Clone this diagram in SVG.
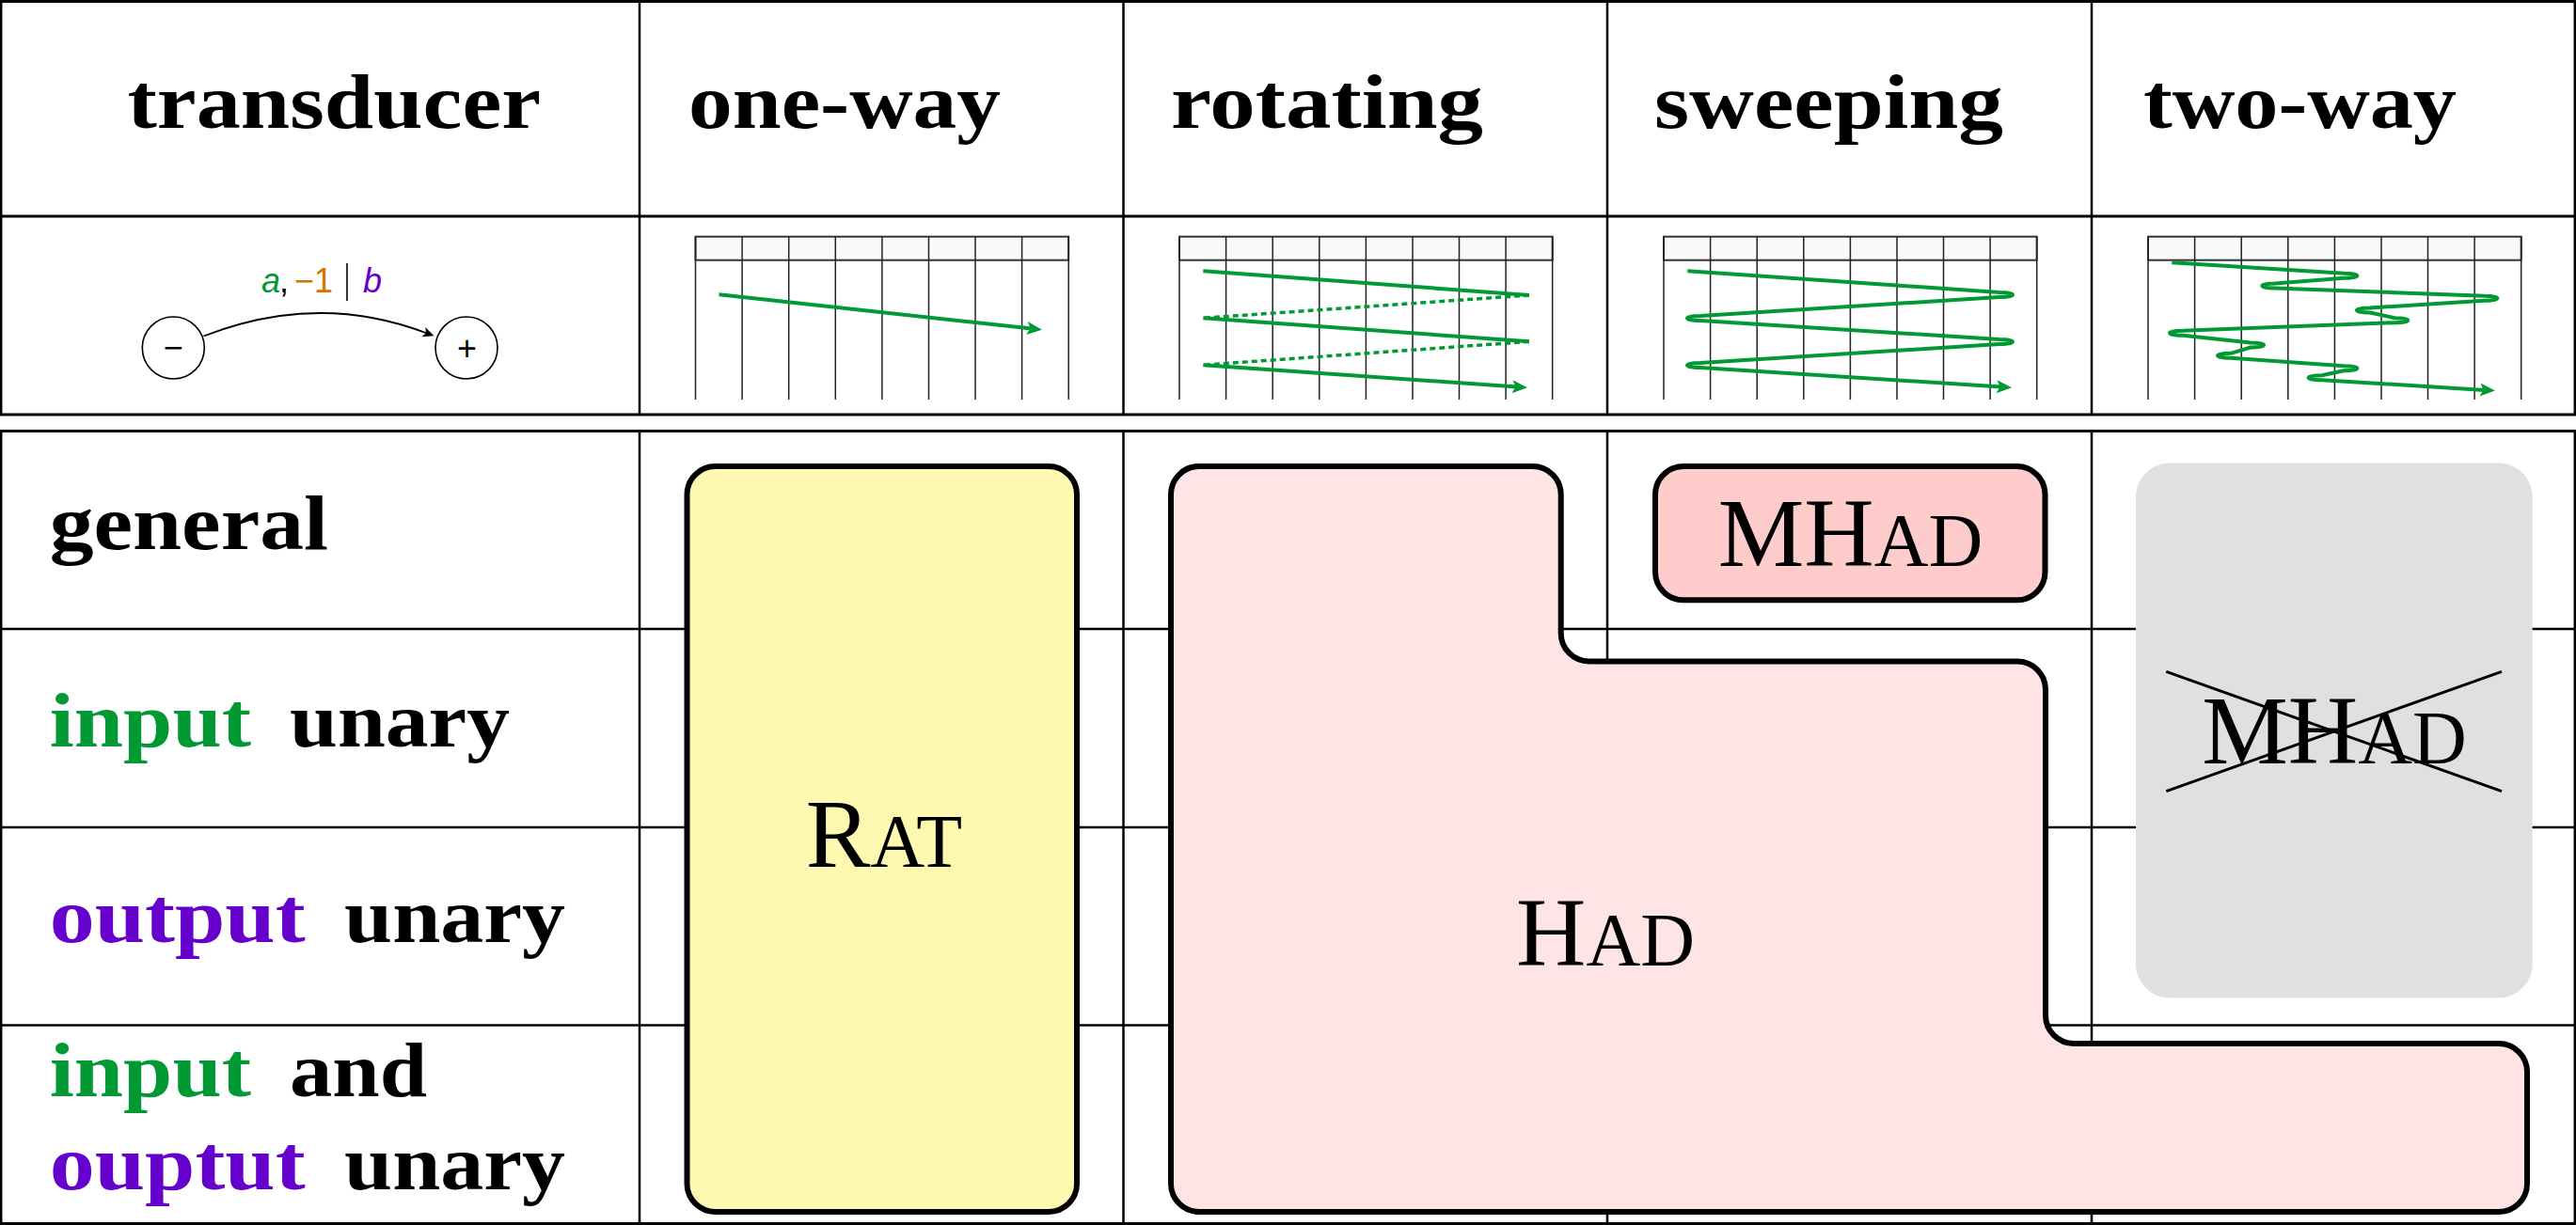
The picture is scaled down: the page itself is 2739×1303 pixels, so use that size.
<svg xmlns="http://www.w3.org/2000/svg" xmlns:xlink="http://www.w3.org/1999/xlink" width="2739" height="1303" viewBox="0 0 2739 1303">
<style>
.hdr{font-family:"Liberation Serif",serif;font-weight:bold;font-size:82px;fill:#000}
.in{fill:#009933}
.out{fill:#6600cc}
.cls{font-family:"Liberation Serif",serif;font-size:103px;fill:#000}
.sc{font-size:80px}
.thick{stroke:#000;stroke-width:3;fill:none}
.thin{stroke:#000;stroke-width:2.5;fill:none}
.tape{stroke:#222;stroke-width:1.5;fill:none}
.green{stroke:#009933;stroke-width:4;fill:none;stroke-linejoin:round}
.dash{stroke:#009933;stroke-width:3.5;fill:none;stroke-dasharray:6 4}
.shape{stroke:#000;stroke-width:6}
.sans{font-family:"Liberation Sans",sans-serif;font-size:36px}
</style>
<defs>
<marker id="gh" markerUnits="userSpaceOnUse" orient="auto" refX="0" refY="0" markerWidth="24" markerHeight="24" style="overflow:visible">
<path d="M -5 -7 L 11 0 L -5 7 L -1.5 0 Z" fill="#009933"/>
</marker>
<marker id="bh" markerUnits="userSpaceOnUse" orient="auto" refX="0" refY="0" markerWidth="20" markerHeight="20" style="overflow:visible">
<path d="M -4 -5.5 L 8 0 L -4 5.5 L -1 0 Z" fill="#000"/>
</marker>
<g id="tape">
<rect x="0" y="0" width="396.7" height="25" fill="#f9f9f9" stroke="#333" stroke-width="2"/>
<path class="tape" d="M0 0V173.3M49.6 0V173.3M99.2 0V173.3M148.8 0V173.3M198.4 0V173.3M248 0V173.3M297.5 0V173.3M347.1 0V173.3M396.7 0V173.3"/>
</g>
</defs>
<rect x="0" y="0" width="2739" height="1303" fill="#fff"/>
<g id="grid">
<path class="thick" d="M0 1.5H2739M0 230H2739M0 441H2739M0 458.5H2739M0 1301.5H2739"/>
<path class="thin" d="M0 669H2739M0 880H2739M0 1090.5H2739"/>
<path class="thin" d="M1.2 0V441M680 0V441M1194.5 0V441M1709 0V441M2224 0V441M2737.8 0V441"/>
<path class="thin" d="M1.2 458V1303M680 458V1303M1194.5 458V1303M1709 458V1303M2224 458V1303M2737.8 458V1303"/>
</g>
<g id="header-transducer"><text class="hdr" x="135.5" y="136" textLength="439.5" lengthAdjust="spacingAndGlyphs">transducer</text></g>
<g id="header-one-way"><text class="hdr" x="732" y="136" textLength="332" lengthAdjust="spacingAndGlyphs">one-way</text></g>
<g id="header-rotating"><text class="hdr" x="1245" y="136" textLength="332" lengthAdjust="spacingAndGlyphs">rotating</text></g>
<g id="header-sweeping"><text class="hdr" x="1759" y="136" textLength="371" lengthAdjust="spacingAndGlyphs">sweeping</text></g>
<g id="header-two-way"><text class="hdr" x="2279" y="136" textLength="333" lengthAdjust="spacingAndGlyphs">two-way</text></g>
<g id="transducer-example">
<circle cx="184.3" cy="370" r="33" fill="#fff" stroke="#000" stroke-width="1.6"/>
<circle cx="496" cy="370" r="33" fill="#fff" stroke="#000" stroke-width="1.6"/>
<text class="sans" x="184.3" y="382" text-anchor="middle" font-size="38">−</text>
<text class="sans" x="496.5" y="383" text-anchor="middle" font-size="38">+</text>
<text class="sans" x="278" y="311" font-style="italic" fill="#009933">a</text>
<text class="sans" x="297" y="311">,</text>
<text class="sans" x="313" y="311" fill="#d97000">−1</text>
<path d="M 369 280 V 320" stroke="#000" stroke-width="1.6"/>
<text class="sans" x="386" y="311" font-style="italic" fill="#6600cc">b</text>
</g>
<g id="tape-one-way"><use xlink:href="#tape" href="#tape" x="739.5" y="251.7"/></g>
<g id="tape-rotating"><use xlink:href="#tape" href="#tape" x="1254" y="251.7"/></g>
<g id="tape-sweeping"><use xlink:href="#tape" href="#tape" x="1769" y="251.7"/></g>
<g id="tape-two-way"><use xlink:href="#tape" href="#tape" x="2284" y="251.7"/></g>
<g id="connectors">
<path d="M 216.5 357.5 Q 338 310 454 354.5" fill="none" stroke="#000" stroke-width="1.8" marker-end="url(#bh)"/>
<path class="green" d="M 764.5 313.3 L 1097 349.5" marker-end="url(#gh)"/>
<path class="green" d="M 1279.3 288.3 L 1626 314"/>
<path class="dash" d="M 1626 314 L 1279.3 338.3"/>
<path class="green" d="M 1279.3 338.3 L 1626 363.3"/>
<path class="dash" d="M 1626 363.3 L 1279.3 388.3"/>
<path class="green" d="M 1279.3 388.3 L 1613 411.5" marker-end="url(#gh)"/>
<path class="green" d="M 1794.3 288.3 L 2126 311 C 2144.67 311 2144.67 316 2126 316 L 1808 336 C 1789.33 336 1789.33 341 1808 341 L 2126 361 C 2144.67 361 2144.67 366 2126 366 L 1808 386 C 1789.33 386 1789.33 391 1808 391 L 2128 411.5" marker-end="url(#gh)"/>
<path class="green" d="M 2309.3 279.3 L 2492.3 290.8 C 2511 290.8 2511 295.8 2492.3 295.8 L 2419.3 301.5 C 2400.6 301.5 2400.6 306.5 2419.3 306.5 L 2641.3 314.8 C 2660 314.8 2660 319.8 2641.3 319.8 L 2520 327.5 C 2501.3 327.5 2501.3 332.5 2520 332.5 L 2546.3 338.2 C 2565 338.2 2565 343.2 2546.3 343.2 L 2321 351.8 C 2302.3 351.8 2302.3 356.8 2321 356.8 L 2393 364.5 C 2411.7 364.5 2411.7 369.5 2393 369.5 L 2372 375.8 C 2353.3 375.8 2353.3 380.8 2372 380.8 L 2492.3 389.2 C 2511 389.2 2511 394.2 2492.3 394.2 L 2468.7 399.2 C 2450 399.2 2450 404.2 2468.7 404.2 L 2642 414.9" marker-end="url(#gh)"/>
</g>
<g id="row-general"><text class="hdr" x="52.7" y="584" textLength="296.3" lengthAdjust="spacingAndGlyphs">general</text></g>
<g id="row-input-unary">
<text class="hdr in" x="52.7" y="794" textLength="214.3" lengthAdjust="spacingAndGlyphs">input</text>
<text class="hdr" x="308" y="794" textLength="234" lengthAdjust="spacingAndGlyphs">unary</text>
</g>
<g id="row-output-unary">
<text class="hdr out" x="52.7" y="1002.3" textLength="272" lengthAdjust="spacingAndGlyphs">output</text>
<text class="hdr" x="366" y="1002.3" textLength="235" lengthAdjust="spacingAndGlyphs">unary</text>
</g>
<g id="row-input-output-unary">
<text class="hdr in" x="52.7" y="1166" textLength="214.3" lengthAdjust="spacingAndGlyphs">input</text>
<text class="hdr" x="308" y="1166" textLength="146" lengthAdjust="spacingAndGlyphs">and</text>
<text class="hdr out" x="52.7" y="1265" textLength="272" lengthAdjust="spacingAndGlyphs">ouptut</text>
<text class="hdr" x="366" y="1265" textLength="235" lengthAdjust="spacingAndGlyphs">unary</text>
</g>
<g id="class-rat">
<rect class="shape" x="730.5" y="496" width="414.5" height="793" rx="30" fill="#fff8b0"/>
<text class="cls" x="940" y="922" text-anchor="middle">R<tspan class="sc">AT</tspan></text>
</g>
<g id="class-had">
<path class="shape" fill="#ffe4e6" d="M 1275 496 H 1629.7 A 30 30 0 0 1 1659.7 526 V 673.5 A 30 30 0 0 0 1689.7 703.5 H 2145 A 30 30 0 0 1 2175 733.5 V 1080 A 30 30 0 0 0 2205 1110 H 2657 A 30 30 0 0 1 2687 1140 V 1259 A 30 30 0 0 1 2657 1289 H 1275 A 30 30 0 0 1 1245 1259 V 526 A 30 30 0 0 1 1275 496 Z"/>
<text class="cls" x="1707" y="1027" text-anchor="middle">H<tspan class="sc">AD</tspan></text>
</g>
<g id="class-mhad">
<rect class="shape" x="1760" y="496" width="414.5" height="142.3" rx="30" fill="#ffcccc"/>
<text class="cls" x="1967.5" y="601.7" text-anchor="middle">MH<tspan class="sc">AD</tspan></text>
</g>
<g id="class-mhad-crossed">
<rect x="2271" y="492.6" width="421.7" height="568.8" rx="36" fill="#e0e0e0"/>
<text class="cls" x="2482" y="812.4" text-anchor="middle">MH<tspan class="sc">AD</tspan></text>
<path d="M 2303.3 714.4 L 2660 841.6 M 2303.3 841.6 L 2660 714.4" stroke="#000" stroke-width="3" fill="none"/>
</g>
</svg>
